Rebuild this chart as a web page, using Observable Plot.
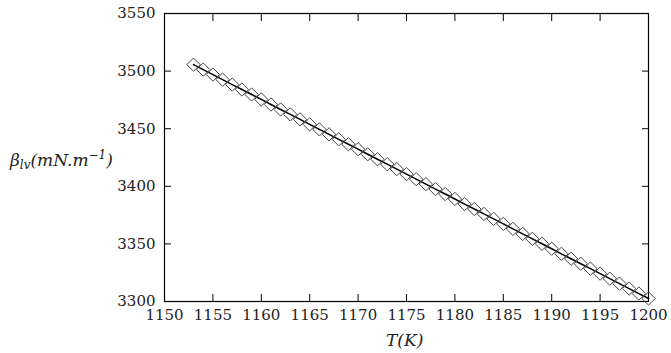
<!DOCTYPE html>
<html><head><meta charset="utf-8">
<script src="https://cdn.jsdelivr.net/npm/d3@7"></script>
<script src="https://cdn.jsdelivr.net/npm/@observablehq/plot@0.6"></script>
<style>
body{margin:0;background:#fff;}
#wrap{position:relative;width:671px;height:353px;font-family:"DejaVu Serif",serif;}
#wrap svg{display:block}
.lab{position:absolute;font-style:italic;font-size:17px;color:#222;white-space:nowrap;line-height:1}
.lab sub{font-size:12px;vertical-align:-3px}
.lab sup{font-size:12px;vertical-align:7px}
</style></head><body><div id="wrap"></div>
<script>
const temperatures = [1153,1154,1155,1156,1157,1158,1159,1160,1161,1162,1163,1164,1165,1166,1167,1168,1169,1170,1171,1172,1173,1174,1175,1176,1177,1178,1179,1180,1181,1182,1183,1184,1185,1186,1187,1188,1189,1190,1191,1192,1193,1194,1195,1196,1197,1198,1199,1200];
const tension = [3505.6,3501.3,3497.0,3492.6,3488.3,3484.0,3479.7,3475.4,3471.0,3466.7,3462.4,3458.1,3453.8,3449.4,3445.1,3440.8,3436.5,3432.2,3427.8,3423.5,3419.2,3414.9,3410.6,3406.2,3401.9,3397.6,3393.3,3389.0,3384.6,3380.3,3376.0,3371.7,3367.4,3363.0,3358.7,3354.4,3350.1,3345.8,3341.4,3337.1,3332.8,3328.5,3324.2,3319.8,3315.5,3311.2,3306.9,3302.6];
const xTicks = [1150,1155,1160,1165,1170,1175,1180,1185,1190,1195,1200];
const yTicks = [3300,3350,3400,3450,3500,3550];

const data = temperatures.map((t, i) => ({t, v: tension[i]}));

const chart = Plot.plot({
  width: 671, height: 353,
  marginLeft: 164, marginRight: 23, marginTop: 13, marginBottom: 52,
  style: {fontFamily: "DejaVu Serif, serif", fontSize: "15px", color: "#222", background: "white", overflow: "visible"},
  x: {domain: [1150, 1200]},
  y: {domain: [3300, 3550]},
  marks: [
    Plot.frame({stroke: "black", strokeWidth: 1.2}),
    Plot.axisX({ticks: xTicks, anchor: "bottom", tickSize: 0, tickPadding: 8, tickFormat: d => String(d), label: null}),
    Plot.axisX({ticks: xTicks, anchor: "bottom", tickSize: -7, text: null, label: null, stroke: "black"}),
    Plot.axisX({ticks: xTicks, anchor: "top", tickSize: -7, text: null, label: null, stroke: "black"}),
    Plot.axisY({ticks: yTicks, anchor: "left", tickSize: 0, tickPadding: 9, tickFormat: d => String(d), label: null}),
    Plot.axisY({ticks: yTicks, anchor: "left", tickSize: -7, text: null, label: null, stroke: "black"}),
    Plot.axisY({ticks: yTicks, anchor: "right", tickSize: -7, text: null, label: null, stroke: "black"}),
    Plot.line(data, {x: "t", y: "v", stroke: "black", strokeWidth: 1.5}),
    Plot.dot(data, {x: "t", y: "v", symbol: "diamond2", r: 6, stroke: "#444", strokeWidth: 1, fill: "none"})
  ]
});
const wrap = document.getElementById("wrap");
wrap.appendChild(chart);
const yl = document.createElement("div");
yl.className = "lab";
yl.innerHTML = "β<sub>lv</sub>(mN.m<sup>−1</sup>)";
yl.style.left = "10px"; yl.style.top = "149px";
wrap.appendChild(yl);
const xl = document.createElement("div");
xl.className = "lab";
xl.innerHTML = "T(K)";
xl.style.left = "386px"; xl.style.top = "332px";
wrap.appendChild(xl);
</script></body></html>
